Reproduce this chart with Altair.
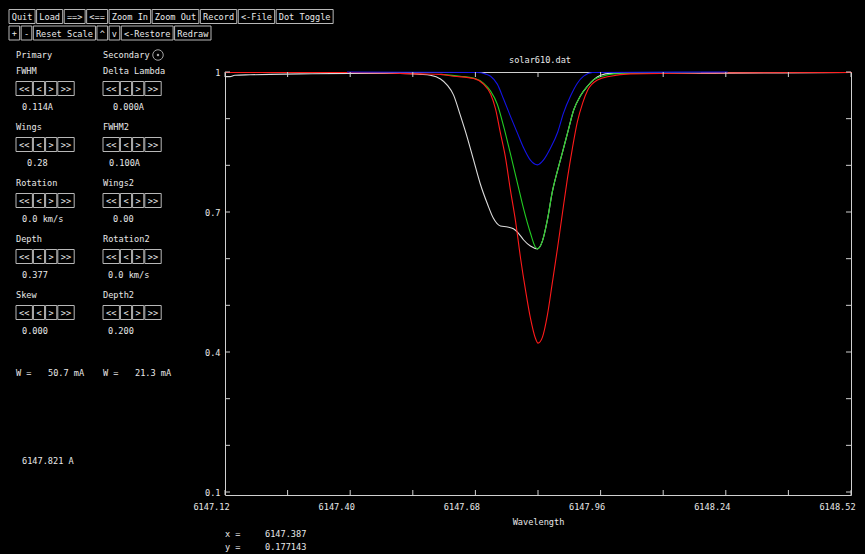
import altair as alt
import pandas as pd

# ---------------- data ----------------
WHITE_WL = [6147.120, 6147.131, 6147.142, 6147.176, 6147.221, 6147.288, 6147.400, 6147.512,
            6147.557, 6147.579, 6147.602, 6147.617, 6147.631, 6147.646, 6147.662, 6147.676,
            6147.691, 6147.707, 6147.720, 6147.736, 6147.752, 6147.765, 6147.776, 6147.788,
            6147.803, 6147.819, 6147.830, 6147.841, 6147.852, 6147.864, 6147.875, 6147.886,
            6147.900, 6147.915, 6147.931, 6147.944, 6147.960, 6147.982, 6148.072, 6148.184,
            6148.363, 6148.522]
WHITE_V = [0.990, 0.990, 0.993, 0.994, 0.995, 0.996, 0.997, 0.997,
           0.995, 0.993, 0.985, 0.972, 0.951, 0.908, 0.859, 0.811,
           0.760, 0.717, 0.687, 0.670, 0.668, 0.664, 0.655, 0.640,
           0.627, 0.621, 0.638, 0.683, 0.743, 0.790, 0.829, 0.869,
           0.919, 0.949, 0.970, 0.983, 0.993, 0.997, 0.998, 0.997,
           0.998, 0.999]

RED_WL = [6147.120, 6147.400, 6147.557, 6147.602, 6147.631, 6147.676, 6147.698, 6147.714,
          6147.725, 6147.736, 6147.747, 6147.758, 6147.770, 6147.781, 6147.792, 6147.803,
          6147.814, 6147.820, 6147.830, 6147.841, 6147.852, 6147.864, 6147.875, 6147.886,
          6147.897, 6147.908, 6147.920, 6147.931, 6147.953, 6147.982, 6148.027, 6148.184,
          6148.522]
RED_V = [0.999, 0.999, 0.996, 0.995, 0.991, 0.986, 0.974, 0.953,
         0.921, 0.869, 0.818, 0.749, 0.679, 0.601, 0.533, 0.473,
         0.430, 0.419, 0.432, 0.479, 0.548, 0.625, 0.700, 0.773,
         0.837, 0.893, 0.934, 0.961, 0.983, 0.991, 0.996, 0.998,
         0.999]

GREEN_WL = [6147.602, 6147.646, 6147.676, 6147.698, 6147.714, 6147.729, 6147.743, 6147.758,
            6147.774, 6147.788, 6147.803, 6147.814, 6147.819, 6147.830, 6147.841, 6147.852,
            6147.864, 6147.875, 6147.886, 6147.900, 6147.915, 6147.931, 6147.944, 6147.964,
            6147.989, 6148.050, 6148.184]
GREEN_V = [0.995, 0.991, 0.987, 0.976, 0.959, 0.931, 0.884, 0.826,
           0.762, 0.706, 0.655, 0.625, 0.621, 0.638, 0.683, 0.743,
           0.790, 0.829, 0.869, 0.919, 0.949, 0.970, 0.983, 0.991,
           0.996, 0.998, 0.999]

BLUE_WL = [6147.393, 6147.684, 6147.702, 6147.714, 6147.729, 6147.743, 6147.758, 6147.774,
           6147.788, 6147.803, 6147.819, 6147.832, 6147.848, 6147.864, 6147.877, 6147.893,
           6147.908, 6147.922, 6147.942, 6148.244]
BLUE_V = [1.000, 0.999, 0.996, 0.991, 0.974, 0.942, 0.906, 0.869,
          0.837, 0.811, 0.801, 0.811, 0.837, 0.871, 0.912, 0.949,
          0.976, 0.991, 0.999, 1.000]

X_LABELS = [6147.12, 6147.40, 6147.68, 6147.96, 6148.24, 6148.52]
X_TICKS = [6147.12, 6147.26, 6147.40, 6147.54, 6147.68, 6147.82, 6147.96,
           6148.10, 6148.24, 6148.38, 6148.52]
Y_LABELS = [0.1, 0.4, 0.7, 1.0]
Y_TICKS = [0.1, 0.2, 0.3, 0.4, 0.5, 0.6, 0.7, 0.8, 0.9, 1.0]

TITLE = "solar610.dat"
X_TITLE = "Wavelength"

ROW1 = ["Quit", "Load", "==>", "<==", "Zoom In", "Zoom Out", "Record", "<-File", "Dot Toggle"]
ROW2 = ["+", "-", "Reset Scale", "^", "v", "<-Restore", "Redraw"]
PRIMARY_HEAD = "Primary"
SECONDARY_HEAD = "Secondary"
PRIMARY_NAMES = ["FWHM", "Wings", "Rotation", "Depth", "Skew"]
PRIMARY_VALUES = ["0.114A", "0.28", "0.0 km/s", "0.377", "0.000"]
SECONDARY_NAMES = ["Delta Lambda", "FWHM2", "Wings2", "Rotation2", "Depth2"]
SECONDARY_VALUES = ["0.000A", "0.100A", "0.00", "0.0 km/s", "0.200"]
ARROWS = ["<<", "<", ">", ">>"]
EQW_LABEL = "W ="
EQW_VALUES = ["50.7 mA", "21.3 mA"]
CENTER_TEXT = "6147.821 A"
CURSOR_NAMES = ["x =", "y ="]
CURSOR_VALUES = ["6147.387", "0.177143"]

# ---------------- layout / style ----------------
OX, OY = 225, 72            # plot origin on the page
W, H = 626, 423             # plot size
X_DOM = [6147.12, 6148.52]
Y_DOM = [0.0936, 1.0]
TICK_PX = 5
TX = TICK_PX * (X_DOM[1] - X_DOM[0]) / W
TY = TICK_PX * (Y_DOM[1] - Y_DOM[0]) / H

FONT = "DejaVu Sans Mono"
FS = 8.6
TXT = "#e8e8e8"
BOX = "#b8b8b8"
FRAME = "#d0d0d0"

xs = alt.Scale(domain=X_DOM, nice=False, zero=False)
ys = alt.Scale(domain=Y_DOM, nice=False, zero=False)

AX_X = alt.Axis(values=X_LABELS, format=".2f", title=X_TITLE, ticks=False, domain=False,
                grid=False, labelPadding=7, labelOffset=-14, titlePadding=7,
                labelFont=FONT, labelFontSize=FS, labelColor=TXT,
                titleFont=FONT, titleFontSize=FS, titleColor=TXT, titleFontWeight="normal",
                labelFlush=False, labelOverlap=False)
AX_Y = alt.Axis(values=Y_LABELS, format=".1~f", title=None, ticks=False, domain=False,
                grid=False, labelPadding=5, labelFont=FONT, labelFontSize=FS,
                labelColor=TXT, labelFlush=False, labelOverlap=False)


def curve(wl, v, color):
    df = pd.DataFrame({"wl": wl, "v": v})
    return alt.Chart(df).mark_line(color=color, strokeWidth=1.1, interpolate="monotone").encode(
        x=alt.X("wl:Q", scale=xs, axis=AX_X),
        y=alt.Y("v:Q", scale=ys, axis=AX_Y),
    )


layers = [
    curve(WHITE_WL, WHITE_V, "#dcdcdc"),
    curve(GREEN_WL, GREEN_V, "#22cc22"),
    curve(RED_WL, RED_V, "#ff1a1a"),
    curve(BLUE_WL, BLUE_V, "#1414e6"),
]

# inward ticks on all four sides
bottom_t = pd.DataFrame({"wl": X_TICKS, "a": Y_DOM[0], "b": Y_DOM[0] + TY})
top_t = pd.DataFrame({"wl": X_TICKS, "a": Y_DOM[1], "b": Y_DOM[1] - TY})
for d in (bottom_t, top_t):
    layers.append(alt.Chart(d).mark_rule(color=FRAME, strokeWidth=1).encode(
        x=alt.X("wl:Q", scale=xs, axis=AX_X),
        y=alt.Y("a:Q", scale=ys, axis=AX_Y), y2="b:Q"))
left_t = pd.DataFrame({"v": Y_TICKS, "a": X_DOM[0], "b": X_DOM[0] + TX})
right_t = pd.DataFrame({"v": Y_TICKS, "a": X_DOM[1] - TX, "b": X_DOM[1]})
for d in (left_t, right_t):
    layers.append(alt.Chart(d).mark_rule(color=FRAME, strokeWidth=1).encode(
        y=alt.Y("v:Q", scale=ys, axis=AX_Y),
        x=alt.X("a:Q", scale=xs, axis=AX_X), x2="b:Q"))

# ---------------- GUI panel (page pixel layout) ----------------
texts = []   # page x, page y, text, align
boxes = []   # x0, x1, y0, y1


def button_row(labels, x0, y0, y1, cw=5.15, pad=5.5, gap=1.5):
    x = x0
    for lab in labels:
        w = cw * len(lab) + pad
        boxes.append((x, x + w, y0, y1))
        texts.append((x + w / 2, (y0 + y1) / 2 + 0.5, lab, "center"))
        x += w + gap


button_row(ROW1, 9, 9.5, 23.5)
button_row(ROW2, 9, 26, 40)

COLS = [16, 103]
VAL_X = [[22, 27, 22, 22, 22], [113, 109, 113, 108, 108]]
texts.append((COLS[0], 55, PRIMARY_HEAD, "left"))
texts.append((COLS[1], 55, SECONDARY_HEAD, "left"))
for c, (names, vals) in enumerate([(PRIMARY_NAMES, PRIMARY_VALUES),
                                    (SECONDARY_NAMES, SECONDARY_VALUES)]):
    for i, (nm, vl) in enumerate(zip(names, vals)):
        base = 56 * i
        texts.append((COLS[c], 70.5 + base, nm, "left"))
        button_row(ARROWS, COLS[c], 81.5 + base, 95.5 + base, cw=5.2, pad=6, gap=1)
        texts.append((VAL_X[c][i], 107 + base, vl, "left"))

for c in range(2):
    texts.append((COLS[c], 373, EQW_LABEL, "left"))
    texts.append((COLS[c] + 32, 373, EQW_VALUES[c], "left"))
texts.append((22, 461, CENTER_TEXT, "left"))
for i in range(2):
    texts.append((225, 534 + 13 * i, CURSOR_NAMES[i], "left"))
    texts.append((265, 534 + 13 * i, CURSOR_VALUES[i], "left"))
# plot title (file name), centred over the plot
texts.append((OX + W / 2 + 2, 60, TITLE, "center"))

tdf = pd.DataFrame(texts, columns=["px", "py", "t", "al"])
tdf["gx"] = tdf["px"] - OX
tdf["gy"] = tdf["py"] - OY
bdf = pd.DataFrame(boxes, columns=["x0", "x1", "y0", "y1"])
for a in ("x0", "x1"):
    bdf[a] = bdf[a] - OX
for a in ("y0", "y1"):
    bdf[a] = bdf[a] - OY

box_layer = alt.Chart(bdf).mark_rect(fill="#000000", stroke=BOX, strokeWidth=1).encode(
    x=alt.X("x0:Q", scale=None, axis=None), x2="x1:Q",
    y=alt.Y("y0:Q", scale=None, axis=None), y2="y1:Q")

text_layers = []
for al in ("left", "center"):
    text_layers.append(alt.Chart(tdf[tdf["al"] == al]).mark_text(
        align=al, baseline="middle", font=FONT, fontSize=FS, color=TXT).encode(
        x=alt.X("gx:Q", scale=None, axis=None),
        y=alt.Y("gy:Q", scale=None, axis=None),
        text="t:N"))

radio = pd.DataFrame({"gx": [158 - OX], "gy": [55 - OY]})
radio_ring = alt.Chart(radio).mark_point(shape="circle", size=110, filled=False,
                                         color=TXT, strokeWidth=1).encode(
    x=alt.X("gx:Q", scale=None, axis=None), y=alt.Y("gy:Q", scale=None, axis=None))
radio_dot = alt.Chart(radio).mark_point(shape="circle", size=6, filled=True,
                                        color=TXT).encode(
    x=alt.X("gx:Q", scale=None, axis=None), y=alt.Y("gy:Q", scale=None, axis=None))

chart = alt.layer(*layers, box_layer, *text_layers, radio_ring, radio_dot).properties(
    width=W, height=H,
    padding={"left": OX, "top": OY, "right": 865 - OX - W, "bottom": 554 - OY - H},
    autosize=alt.AutoSizeParams(type="none"),
).configure(background="#000000").configure_view(stroke=FRAME, strokeWidth=1)

chart.save("out.html", embed_options={"renderer": "svg", "actions": False})
